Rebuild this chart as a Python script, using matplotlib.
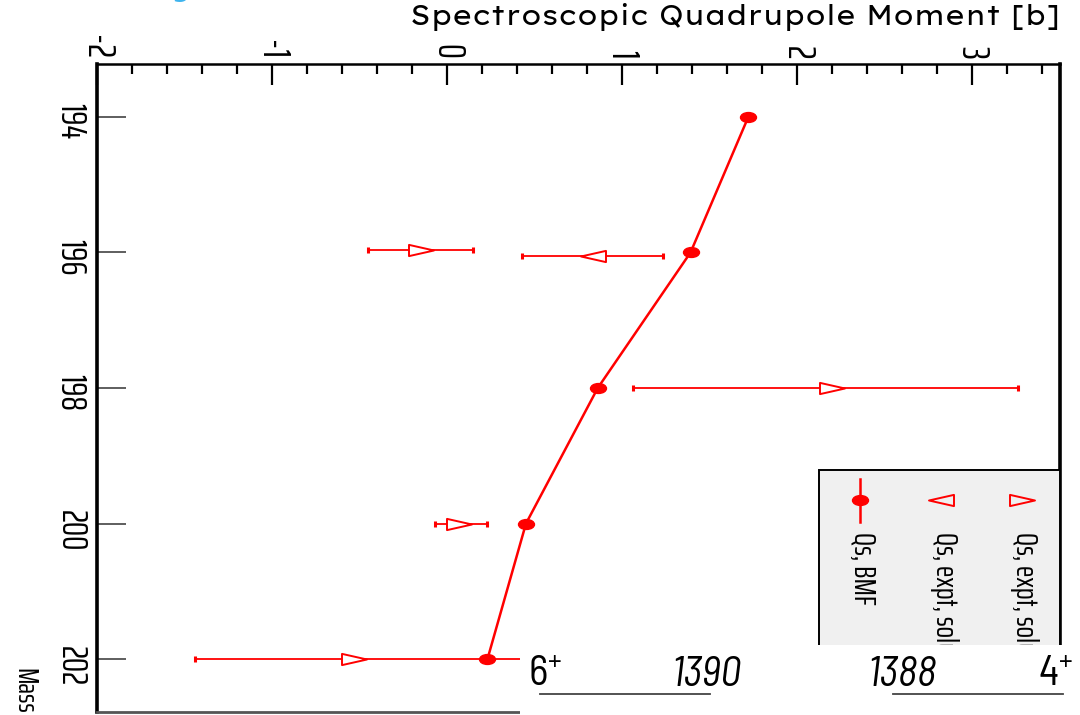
import matplotlib
matplotlib.use('Agg')
import matplotlib.pyplot as plt
from matplotlib import font_manager
from matplotlib.font_manager import FontProperties
from matplotlib.textpath import TextPath
from matplotlib.path import Path
from matplotlib.transforms import Affine2D
from matplotlib.patches import Rectangle
from matplotlib.lines import Line2D
from matplotlib.ticker import MultipleLocator

# ---------------- data ----------------
mass_bmf = [194, 196, 198, 200, 202]
qs_bmf = [1.72, 1.39, 0.86, 0.45, 0.23]

mass_sol1 = [195.96, 198, 200, 202]
qs_sol1 = [-0.15, 2.20, 0.07, -0.53]
err_sol1_lo = [0.30, 1.14, 0.14, 0.91]
err_sol1_hi = [0.30, 1.06, 0.16, 1.00]

mass_sol2 = [196.05]
qs_sol2 = [0.83]
err_sol2_lo = [0.40]
err_sol2_hi = [0.40]

xticks = [-2, -1, 0, 1, 2, 3]
xtick_labels = ['-2', '-1', '0', '1', '2', '3']
yticks = [194, 196, 198, 200, 202]
ytick_labels = ['194', '196', '198', '200', '202']

legend_labels = ['Qs, expt, solution 1', 'Qs, expt, solution 2', 'Qs, BMF']
title = 'Spectroscopic Quadrupole Moment [b]'
mass_label = 'Mass'
level_left = ['6$^{+}$', '1390']
level_right = ['1388', '4$^{+}$']


# ---------------- fonts ----------------
def pick(cands, style='normal', default='Liberation Sans'):
    fl = font_manager.fontManager.ttflist
    norm = lambda s: s.lower().replace(' ', '')
    for c in cands:
        for f in fl:
            if norm(f.name) == norm(c) and f.style == style:
                return f.name
    return default


COND = pick(['Saira ExtraCondensed', 'Saira Extra Condensed',
             'Fira Sans Extra Condensed', 'Barlow Condensed',
             'Encode Sans Condensed', 'Roboto Condensed', 'Archivo Narrow',
             'PT Sans Narrow', 'Liberation Sans Narrow'])
LEVEL_IT = pick(['Barlow Semi Condensed', 'Roboto Condensed', 'Archivo Narrow',
                 'Fira Sans Condensed', 'Liberation Sans'], style='italic')
LEVEL_RM = pick([LEVEL_IT])
CONDL = [COND, 'Liberation Sans', 'DejaVu Sans']

plt.rcParams['mathtext.fontset'] = 'custom'
plt.rcParams['mathtext.rm'] = LEVEL_RM
plt.rcParams['mathtext.default'] = 'regular'
RED = '#ff0000'

# title font: among (tracked) families, size each to the reference width
# (~645 px) and keep the one whose cap height is closest to ~19 px
best = None
for fam in ['Lexend Exa', 'Lexend Giga', 'Lexend Mega', 'Lexend Deca',
            'DejaVu Sans', 'Liberation Sans']:
    if pick([fam], default=None) is None:
        continue
    fp = FontProperties(family=fam)
    wpt = TextPath((0, 0), title, size=10, prop=fp).get_extents().width
    cpt = TextPath((0, 0), 'H', size=10, prop=fp).get_extents().height
    size = 10 * (645 * 0.72) / wpt
    cap_px = cpt * size / 10 / 0.72
    score = abs(cap_px - 19)
    if best is None or score < best[0]:
        best = (score, fam, size)
TITLE_FAM, TITLE_SIZE = best[1], best[2]

W, H = 1080, 715
fig = plt.figure(figsize=(W / 100, H / 100), dpi=100)


def fx(x):
    return x / W


def fy(y):
    return 1 - y / H


ax = fig.add_axes([fx(97), fy(712), (1060 - 97) / W, (712 - 64) / H])

# markers (stretched shapes as in the reference)
ellipse = Path.unit_circle().transformed(Affine2D().scale(1.0, 0.62))
tri_right = Path([(-1, -0.45), (1, 0), (-1, 0.45), (-1, -0.45)],
                 [Path.MOVETO, Path.LINETO, Path.LINETO, Path.CLOSEPOLY])
tri_left = Path([(1, -0.45), (-1, 0), (1, 0.45), (1, -0.45)],
                [Path.MOVETO, Path.LINETO, Path.LINETO, Path.CLOSEPOLY])

ax.errorbar(qs_sol1, mass_sol1, xerr=[err_sol1_lo, err_sol1_hi], fmt='none',
            ecolor=RED, elinewidth=1.3, capsize=2, capthick=2.2, zorder=2)
ax.plot(qs_sol1, mass_sol1, ls='none', marker=tri_right, ms=18,
        mfc='white', mec=RED, mew=1.4, zorder=3)
ax.errorbar(qs_sol2, mass_sol2, xerr=[err_sol2_lo, err_sol2_hi], fmt='none',
            ecolor=RED, elinewidth=1.3, capsize=2, capthick=2.2, zorder=2)
ax.plot(qs_sol2, mass_sol2, ls='none', marker=tri_left, ms=18,
        mfc='white', mec=RED, mew=1.4, zorder=3)
ax.plot(qs_bmf, mass_bmf, color=RED, lw=1.8, marker=ellipse, ms=11.5,
        mfc=RED, mec=RED, zorder=4)

ax.set_xlim(-2, 3.5)
ax.set_ylim(202.78, 193.22)

ax.xaxis.tick_top()
ax.set_xticks(xticks)
ax.set_xticklabels(xtick_labels, rotation=-90, fontsize=27, family=CONDL)
ax.xaxis.set_minor_locator(MultipleLocator(0.2))
ax.tick_params(axis='x', which='major', direction='in', length=15, width=1.6,
               top=True, bottom=False, pad=3.5, colors='black')
ax.tick_params(axis='x', which='minor', direction='in', length=7.5, width=1.6,
               top=True, bottom=False)
ax.set_yticks(yticks)
ax.set_yticklabels(ytick_labels, rotation=-90, fontsize=26, family=CONDL)
ax.tick_params(axis='y', which='major', direction='in', length=21, width=1.1,
               left=True, right=False, pad=7, color='#333333')

ax.spines['left'].set_linewidth(2.6)
ax.spines['right'].set_linewidth(2.6)
ax.spines['top'].set_linewidth(1.8)
ax.spines['bottom'].set_linewidth(2.0)
ax.spines['bottom'].set_color('#555555')

# ---------------- legend (rotated, drawn by hand) ----------------
fig.add_artist(Rectangle((fx(819), fy(715)), (1060 - 819) / W, (715 - 470) / H,
                         transform=fig.transFigure, facecolor='#f0f0f0',
                         edgecolor='black', lw=1.4, zorder=5))
leg_x = [1022, 941, 860]
leg_markers = [tri_right, tri_left, ellipse]
for i, (lx, mk, lab) in enumerate(zip(leg_x, leg_markers, legend_labels)):
    if i == 2:
        fig.add_artist(Line2D([fx(lx), fx(lx)], [fy(479), fy(522)],
                              transform=fig.transFigure, color=RED, lw=1.8,
                              zorder=6))
        fig.add_artist(Line2D([fx(lx)], [fy(500)], transform=fig.transFigure,
                              marker=mk, ms=11.5, color=RED, zorder=6))
    else:
        fig.add_artist(Line2D([fx(lx)], [fy(500)], transform=fig.transFigure,
                              marker=mk, ms=18, mfc='none', mec=RED, mew=1.4,
                              ls='none', zorder=6))
    fig.text(fx(lx + 3), fy(532), lab, rotation=-90, ha='center', va='top',
             fontsize=22, family=CONDL, zorder=6)

# ---------------- cover box and overlay texts ----------------
fig.add_artist(Rectangle((fx(520), 0), 1 - fx(520), (715 - 645) / H,
                         transform=fig.transFigure, facecolor='white',
                         edgecolor='none', zorder=10))

fig.text(fx(1060), fy(17), title, ha='right', va='center', fontsize=TITLE_SIZE,
         family=TITLE_FAM, zorder=11)
fig.text(fx(181), fy(-3), 'g', ha='center', va='baseline', fontsize=18,
         color='#3fb4ee', fontweight='bold', zorder=11)
fig.text(fx(24), fy(668), mass_label, rotation=-90, ha='center', va='top',
         fontsize=21, family=CONDL, zorder=11)

fig.text(fx(528), fy(675), level_left[0], ha='left', va='center', fontsize=30,
         family=LEVEL_RM, zorder=11)
fig.text(fx(741), fy(675), level_left[1], ha='right', va='center', fontsize=30,
         family=LEVEL_IT, style='italic', zorder=11)
fig.text(fx(867), fy(675), level_right[0], ha='left', va='center', fontsize=30,
         family=LEVEL_IT, style='italic', zorder=11)
fig.text(fx(1073), fy(675), level_right[1], ha='right', va='center', fontsize=30,
         family=LEVEL_RM, zorder=11)
for x0, x1 in [(540, 710), (893, 1063)]:
    fig.add_artist(Line2D([fx(x0), fx(x1)], [fy(694), fy(694)],
                          transform=fig.transFigure, color='#444444', lw=1.3,
                          zorder=11))

fig.savefig('out.png', dpi=100)
